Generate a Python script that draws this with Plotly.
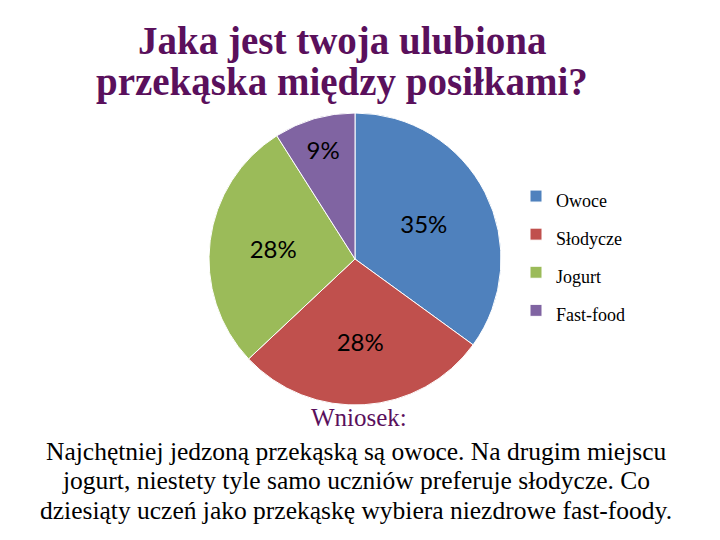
import plotly.graph_objects as go

categories = ["Owoce", "Słodycze", "Jogurt", "Fast-food"]
values = [35, 28, 28, 9]
colors = ["#4F81BD", "#C0504D", "#9BBB59", "#8064A2"]

title_lines = ["Jaka jest twoja ulubiona", "przekąska między posiłkami?"]
conclusion_head = "Wniosek:"
conclusion_lines = [
    "Najchętniej jedzoną przekąską są owoce. Na drugim miejscu",
    "jogurt, niestety tyle samo uczniów preferuje słodycze. Co",
    "dziesiąty uczeń jako przekąskę wybiera niezdrowe fast-foody.",
]

W, H = 720, 540
cx, cy, r = 355, 259, 146

# legend label text rendered at 18px while legend font (which sets row spacing) is larger
legend_labels = ["<span style='font-size:18px'>" + c + "</span>" for c in categories]

fig = go.Figure(go.Pie(
    labels=legend_labels,
    values=values,
    sort=False,
    direction="clockwise",
    rotation=0,
    marker=dict(colors=colors, line=dict(color="white", width=1)),
    texttemplate="%{percent:.0%}",
    textposition="inside",
    insidetextorientation="horizontal",
    textfont=dict(family="Lato", size=24, color="black"),
    domain=dict(x=[(cx - r) / W, (cx + r) / W], y=[(H - cy - r) / H, (H - cy + r) / H]),
    hovertemplate="%{label}: %{percent}<extra></extra>",
))

annotations = []
title_font = dict(family="Liberation Serif", size=39, color="#5A105C")
for i, line in enumerate(title_lines):
    annotations.append(dict(
        text="<b>" + line + "</b>", x=342 / W, y=1 - (41 + i * 41) / H,
        xref="paper", yref="paper", xanchor="center", yanchor="middle",
        showarrow=False, font=title_font))

annotations.append(dict(
    text=conclusion_head, x=359 / W, y=1 - 417 / H, xref="paper", yref="paper",
    xanchor="center", yanchor="middle", showarrow=False,
    font=dict(family="Liberation Serif", size=25, color="#5A105C")))
for i, line in enumerate(conclusion_lines):
    annotations.append(dict(
        text=line, x=356 / W, y=1 - (451 + i * 29.5) / H, xref="paper", yref="paper",
        xanchor="center", yanchor="middle", showarrow=False, align="center",
        font=dict(family="Liberation Serif", size=25.5, color="black")))

fig.update_layout(
    width=W, height=H,
    margin=dict(l=0, r=0, t=0, b=0),
    paper_bgcolor="white",
    plot_bgcolor="white",
    showlegend=True,
    legend=dict(x=516 / W, y=1 - 172 / H, xanchor="left", yanchor="top",
                font=dict(family="Liberation Serif", size=27, color="black"),
                itemwidth=30, traceorder="normal", bgcolor="rgba(0,0,0,0)"),
    annotations=annotations,
)

fig.write_html("out.html", config={"displayModeBar": False},
               post_script="document.body.style.margin='0';")
